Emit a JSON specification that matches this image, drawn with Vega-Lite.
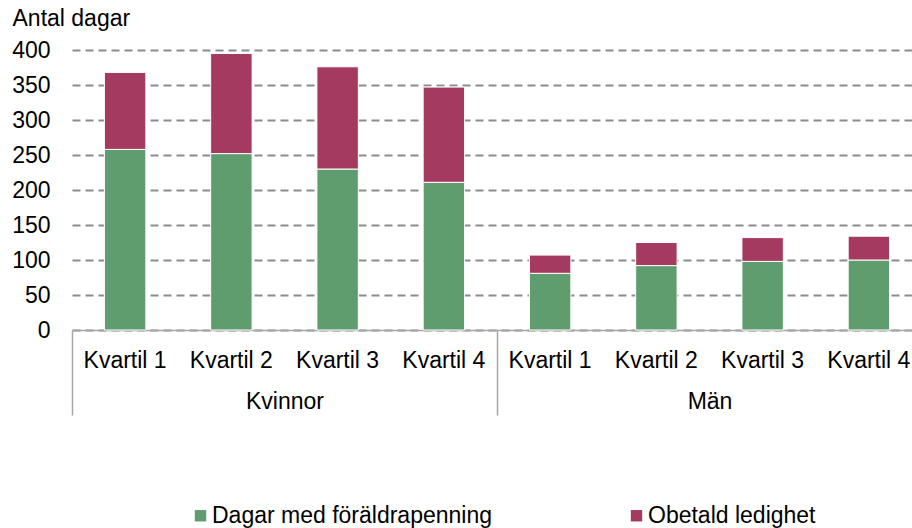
{
  "$schema": "https://vega.github.io/schema/vega-lite/v6.json",
  "autosize": {"type": "none"},
  "padding": {"left": 72, "top": 50, "right": 0, "bottom": 198},
  "width": 850,
  "height": 280,
  "background": "white",
  "config": {
    "font": "Liberation Sans",
    "view": {"stroke": null},
    "axis": {"labelFont": "Liberation Sans", "titleFont": "Liberation Sans"},
    "legend": {"labelFont": "Liberation Sans"}
  },
  "data": {
    "values": [
      {"Kön": "Kvinnor", "key": "Kvinnor|Kvartil 1", "Typ": "Dagar med föräldrapenning", "Dagar": 258},
      {"Kön": "Kvinnor", "key": "Kvinnor|Kvartil 1", "Typ": "Obetald ledighet", "Dagar": 110},
      {"Kön": "Kvinnor", "key": "Kvinnor|Kvartil 2", "Typ": "Dagar med föräldrapenning", "Dagar": 252},
      {"Kön": "Kvinnor", "key": "Kvinnor|Kvartil 2", "Typ": "Obetald ledighet", "Dagar": 143},
      {"Kön": "Kvinnor", "key": "Kvinnor|Kvartil 3", "Typ": "Dagar med föräldrapenning", "Dagar": 230},
      {"Kön": "Kvinnor", "key": "Kvinnor|Kvartil 3", "Typ": "Obetald ledighet", "Dagar": 146},
      {"Kön": "Kvinnor", "key": "Kvinnor|Kvartil 4", "Typ": "Dagar med föräldrapenning", "Dagar": 211},
      {"Kön": "Kvinnor", "key": "Kvinnor|Kvartil 4", "Typ": "Obetald ledighet", "Dagar": 136},
      {"Kön": "Män", "key": "Män|Kvartil 1", "Typ": "Dagar med föräldrapenning", "Dagar": 81},
      {"Kön": "Män", "key": "Män|Kvartil 1", "Typ": "Obetald ledighet", "Dagar": 26},
      {"Kön": "Män", "key": "Män|Kvartil 2", "Typ": "Dagar med föräldrapenning", "Dagar": 92},
      {"Kön": "Män", "key": "Män|Kvartil 2", "Typ": "Obetald ledighet", "Dagar": 33},
      {"Kön": "Män", "key": "Män|Kvartil 3", "Typ": "Dagar med föräldrapenning", "Dagar": 98},
      {"Kön": "Män", "key": "Män|Kvartil 3", "Typ": "Obetald ledighet", "Dagar": 34},
      {"Kön": "Män", "key": "Män|Kvartil 4", "Typ": "Dagar med föräldrapenning", "Dagar": 100},
      {"Kön": "Män", "key": "Män|Kvartil 4", "Typ": "Obetald ledighet", "Dagar": 34}
    ]
  },
  "layer": [
    {
      "mark": {"type": "bar", "stroke": "white", "strokeWidth": 1},
      "encoding": {
        "x": {
          "field": "key", "type": "nominal", "sort": null,
          "scale": {"paddingInner": 0.61, "paddingOuter": 0.305},
          "axis": {
            "orient": "bottom", "title": null,
            "labelExpr": "split(datum.label, '|')[1]",
            "labelAngle": 0, "labelFontSize": 23, "labelColor": "#000000",
            "labelPadding": 19, "ticks": false, "grid": false,
            "domainColor": "#a6a6a6", "domainWidth": 1.5
          }
        },
        "y": {
          "field": "Dagar", "type": "quantitative", "stack": "zero",
          "scale": {"domain": [0, 400], "nice": false},
          "axis": {
            "title": "Antal dagar", "titleAngle": 0, "titleAlign": "left",
            "titleBaseline": "alphabetic", "titleX": -60, "titleY": -25,
            "titleFontSize": 23, "titleFontWeight": "normal", "titleColor": "#000000",
            "labelFontSize": 23, "labelColor": "#000000", "labelPadding": 22,
            "labelOverlap": false, "labelBound": false, "labelFlush": false,
            "domain": false, "ticks": false, "tickCount": 20,
            "values": [0, 50, 100, 150, 200, 250, 300, 350, 400],
            "gridColor": "#8c8c8c", "gridDash": [8, 5], "gridWidth": 2
          }
        },
        "color": {
          "field": "Typ", "type": "nominal",
          "scale": {"domain": ["Dagar med föräldrapenning", "Obetald ledighet"], "range": ["#5f9d6e", "#a53a60"]},
          "legend": {
            "title": null, "orient": "none", "legendX": 117, "legendY": 454,
            "direction": "horizontal", "symbolType": "square", "symbolSize": 130,
            "symbolStrokeWidth": 0,
            "labelFontSize": 23, "labelColor": "#000000", "labelLimit": 500,
            "columnPadding": 132, "labelOffset": 0
          }
        },
        "order": {"field": "Typ", "sort": "ascending"}
      }
    },
    {
      "mark": {"type": "point", "opacity": 0},
      "encoding": {
        "x": {
          "field": "Kön", "type": "nominal", "sort": null,
          "scale": {"type": "band", "paddingInner": 0, "paddingOuter": 0},
          "axis": {
            "orient": "bottom", "title": null, "labelAngle": 0,
            "labelFontSize": 23, "labelColor": "#000000",
            "tickBand": "extent", "tickSize": 85, "tickColor": "#a6a6a6", "tickWidth": 1.5,
            "labelPadding": -25, "domain": false, "grid": false
          }
        },
        "y": {"field": "Dagar", "type": "quantitative", "stack": "zero"}
      }
    }
  ],
  "resolve": {"scale": {"x": "independent"}}
}
